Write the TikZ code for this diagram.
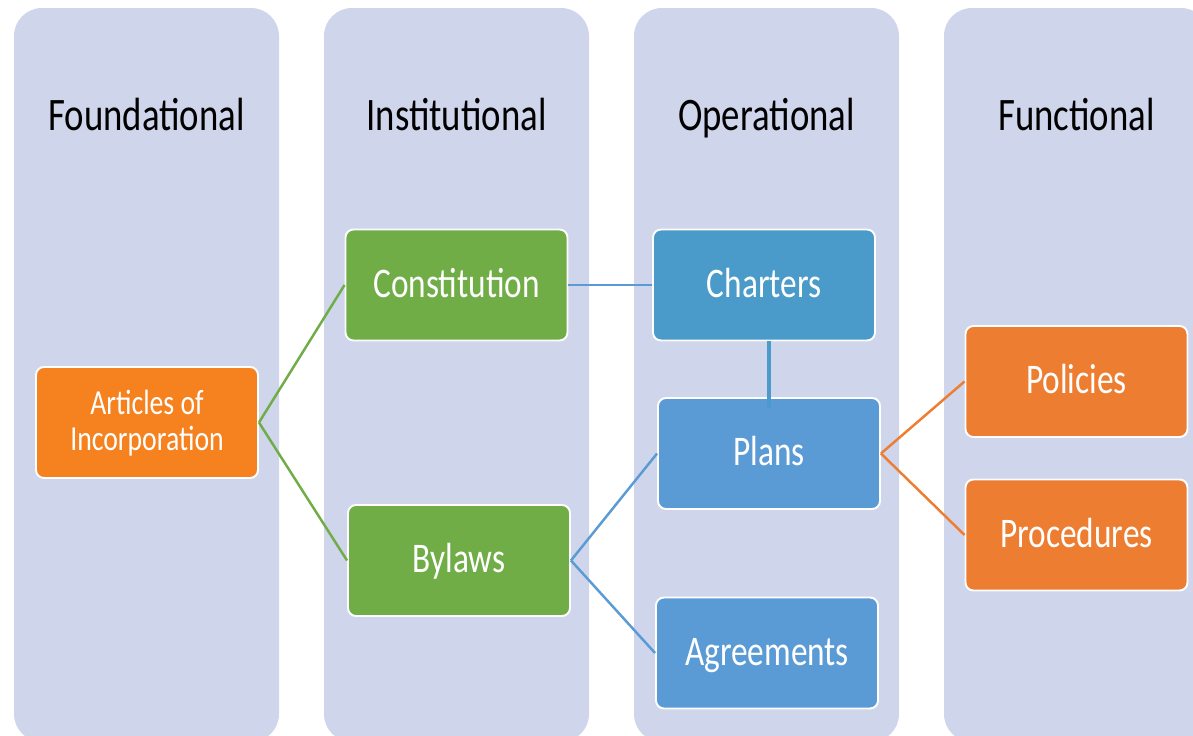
\documentclass[tikz,border=0pt]{standalone}
\usepackage{fontspec}
\setmainfont{Carlito}[FakeStretch=0.79]
\usepackage{tikz}
\definecolor{lanefill}{HTML}{CFD5EA}
\definecolor{artorange}{HTML}{F5821F}
\definecolor{funorange}{HTML}{ED7D31}
\definecolor{instgreen}{HTML}{70AD47}
\definecolor{charblue}{HTML}{4A9BC9}
\definecolor{opblue}{HTML}{5B9BD5}
\tikzset{
  lane/.style     = {fill=lanefill, rounded corners=0.56cm},
  header/.style   = {anchor=base, font=\fontsize{26.5}{30}\selectfont, text=black},
  block/.style    = {draw=white, line width=1.1pt, rectangle, rounded corners=0.16cm, minimum height=2.22cm, minimum width=4.44cm, inner sep=0pt, text=white, text height=19.2pt, text depth=5.5pt, font=\fontsize{24}{26}\selectfont},
  twoline/.style  = {align=center, text height=, text depth=, font=\fontsize{20}{20.5}\selectfont},
  link/.style     = {line width=1.4pt}
}

\begin{document}
\begin{tikzpicture}
\useasboundingbox (0,0) rectangle (23.86,-14.72);
\clip (0,0) rectangle (23.86,-14.72);

% Lanes
\fill[lane] (0.28,-0.16) rectangle (5.58,-14.84);
\fill[lane] (6.48,-0.16) rectangle (11.78,-14.84);
\fill[lane] (12.68,-0.16) rectangle (17.98,-14.84);
\fill[lane] (18.88,-0.16) rectangle (24.18,-14.84);

% Headers
\draw node [header] (h1) at (2.93,-2.62) {Foundational};
\draw node [header] (h2) at (9.13,-2.62) {Institutional};
\draw node [header] (h3) at (15.33,-2.62) {Operational};
\draw node [header] (h4) at (21.53,-2.62) {Functional};

% First layer
\draw node [block, twoline, fill=artorange] (p11) at (2.94,-8.45) {\rule{0pt}{0.5cm}Articles of\\Incorporation};

% Second layer
\draw node [block, fill=instgreen, right of=p11, yshift=2.75cm, node distance=6.19cm] (p21) {Constitution};
\draw node [block, fill=instgreen, below of=p21, xshift=0.05cm, node distance=5.51cm] (p22) {Bylaws};

% Third layer
\draw node [block, fill=charblue, right of=p21, node distance=6.15cm] (p31) {Charters};
\draw node [block, fill=opblue, below of=p31, xshift=0.10cm, node distance=3.37cm] (p32) {Plans};
\draw node [block, fill=opblue, below of=p32, xshift=-0.04cm, node distance=3.99cm] (p33) {Agreements};

% Fourth layer
\draw node [block, fill=funorange, right of=p32, yshift=1.44cm, node distance=6.15cm] (p41) {Policies};
\draw node [block, fill=funorange, below of=p41, node distance=3.07cm] (p42) {Procedures};

% Connections
\draw[link, instgreen](p11.east) -- (p21.west);
\draw[link, instgreen](p11.east) -- (p22.west);

\draw[link, opblue](p21.east) -- (p31.west);
\draw[line width=2.5pt, charblue](p32.north |- p31.south) -- ([yshift=-0.22cm]p32.north);

\draw[link, opblue](p22.east) -- (p32.west);
\draw[link, opblue](p22.east) -- (p33.west);

\draw[link, funorange](p32.east) -- (p41.west);
\draw[link, funorange](p32.east) -- (p42.west);

\end{tikzpicture}
\end{document}
